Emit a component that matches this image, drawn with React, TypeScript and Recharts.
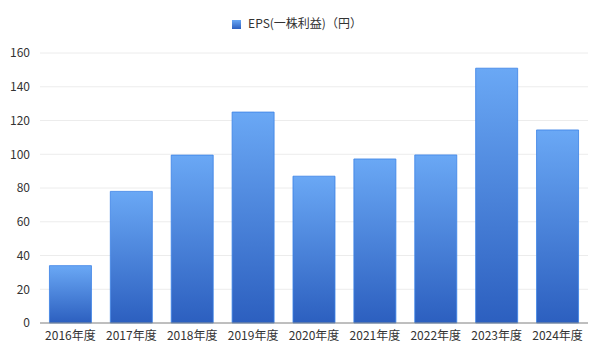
import React from 'react';
import { BarChart, Bar, XAxis, YAxis, CartesianGrid, Legend } from 'recharts';

const years = ['2016年度', '2017年度', '2018年度', '2019年度', '2020年度', '2021年度', '2022年度', '2023年度', '2024年度'];
const eps = [34, 78, 99.5, 125, 87, 97.2, 99.6, 151, 114.4];
const yTicks = [0, 20, 40, 60, 80, 100, 120, 140, 160];

const SERIES_NAME = 'EPS(一株利益)（円）';
const FONT = '"Noto Sans CJK JP", "Noto Sans", sans-serif';

const data = years.map((y, i) => ({ year: y, eps: eps[i] }));

export default function App() {
  return (
    <div style={{ position: 'fixed', left: 0, top: 0, width: 600, height: 351, background: '#fff', fontFamily: FONT }}>
      <BarChart
        width={600}
        height={351}
        data={data}
        margin={{ top: 36, right: 12, bottom: 0, left: 0 }}
        barCategoryGap="15.5%"
      >
        <defs>
          <linearGradient id="epsFill" x1="0" y1="0" x2="0" y2="1">
            <stop offset="0%" stopColor="#6aa8f5" />
            <stop offset="100%" stopColor="#2c5fbf" />
          </linearGradient>
        </defs>
        <CartesianGrid stroke="#ececec" vertical={false} />
        <XAxis
          dataKey="year"
          tick={{ fontSize: 12, fill: '#333', fontFamily: FONT }}
          tickLine={false}
          axisLine={{ stroke: '#888' }}
          height={28}
          interval={0}
        />
        <YAxis
          domain={[0, 160]}
          ticks={yTicks}
          tick={{ fontSize: 12, fill: '#333', fontFamily: FONT }}
          tickLine={false}
          axisLine={false}
          tickMargin={4}
          width={40}
        />
        <Legend
          verticalAlign="top"
          align="center"
          iconType="square"
          iconSize={9}
          wrapperStyle={{ top: 14, left: 8, fontSize: 12, fontFamily: FONT }}
          formatter={(v) => <span style={{ color: '#333', marginLeft: 3 }}>{v}</span>}
        />
        <Bar
          dataKey="eps"
          name={SERIES_NAME}
          fill="url(#epsFill)"
          stroke="#3b82e6"
          strokeOpacity={0.8}
          strokeWidth={1}
          isAnimationActive={false}
          legendType="square"
        />
      </BarChart>
    </div>
  );
}
